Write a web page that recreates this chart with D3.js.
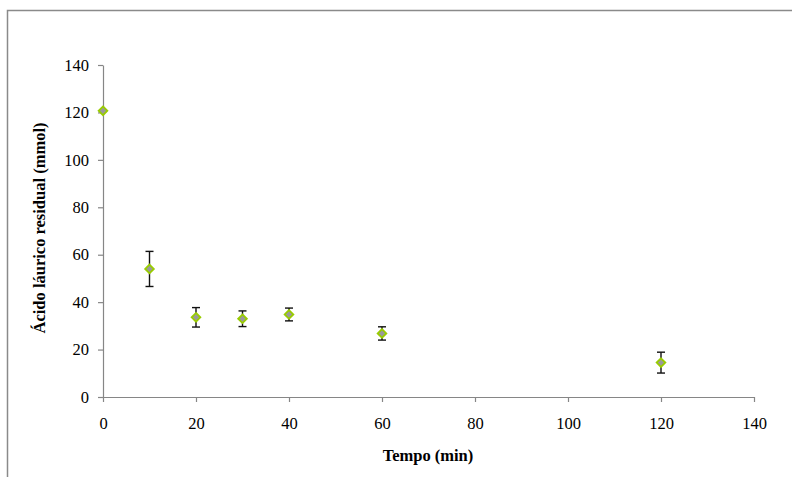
<!DOCTYPE html>
<html><head><meta charset="utf-8">
<script src="https://cdn.jsdelivr.net/npm/d3@7"></script>
<style>html,body{margin:0;padding:0;background:#fff;overflow:hidden}
svg text{font-family:"Liberation Serif","Times New Roman",Times,"DejaVu Serif",serif}</style>
</head><body>
<svg id="c" width="792" height="477"></svg>
<script>
const times = [0, 10, 20, 30, 40, 60, 120];
const acid = [120.7, 54.0, 33.6, 33.0, 34.8, 26.8, 14.5];
const errs = [0, 7.4, 4.1, 3.3, 2.7, 2.8, 4.4];
const xTicks = [0, 20, 40, 60, 80, 100, 120, 140];
const yTicks = [0, 20, 40, 60, 80, 100, 120, 140];
const xTitle = "Tempo (min)";
const yTitle = "Ácido láurico residual (mmol)";

const svg = d3.select("#c");
// outer frame
svg.append("rect").attr("x", 7.5).attr("y", 10.5).attr("width", 800).attr("height", 500)
  .attr("fill", "none").attr("stroke", "#8a8a8a").attr("stroke-width", 1.5);

const x = d3.scaleLinear().domain([0, 140]).range([103, 754]);
const y = d3.scaleLinear().domain([0, 140]).range([397, 65]);

const xAxis = svg.append("g").attr("transform", "translate(0,397)")
  .call(d3.axisBottom(x).tickValues(xTicks).tickSize(5).tickPadding(8).tickSizeOuter(0));
const yAxis = svg.append("g").attr("transform", "translate(103,0)")
  .call(d3.axisLeft(y).tickValues(yTicks).tickSize(5).tickPadding(9).tickSizeOuter(0));
[xAxis, yAxis].forEach(a => {
  a.attr("font-family", null).attr("font-size", null);
  a.selectAll("path,line").attr("stroke", "#868686").attr("stroke-width", 1.2);
  a.selectAll("text").style("font-size", "16.5px").attr("fill", "#000");
});
xAxis.selectAll("text").attr("y", 32).attr("dy", 0);

svg.append("text").attr("x", 428).attr("y", 461).attr("text-anchor", "middle")
  .style("font-size", "16.5px").attr("font-weight", "bold").text(xTitle);
svg.append("text").attr("transform", "translate(45,228) rotate(-90)").attr("text-anchor", "middle")
  .style("font-size", "16.5px").attr("font-weight", "bold").text(yTitle);

const pts = times.map((t, i) => ({t, v: acid[i], e: errs[i]}));
const eb = svg.append("g").attr("stroke", "#111").attr("stroke-width", 1.4);
pts.filter(d => d.e > 0).forEach(d => {
  const cx = x(d.t);
  eb.append("line").attr("x1", cx).attr("x2", cx).attr("y1", y(d.v + d.e)).attr("y2", y(d.v - d.e));
  eb.append("line").attr("x1", cx - 4).attr("x2", cx + 4).attr("y1", y(d.v + d.e)).attr("y2", y(d.v + d.e));
  eb.append("line").attr("x1", cx - 4).attr("x2", cx + 4).attr("y1", y(d.v - d.e)).attr("y2", y(d.v - d.e));
});
svg.append("g").selectAll("path").data(pts).join("path")
  .attr("d", d3.symbol(d3.symbolDiamond2, 48))
  .attr("transform", d => `translate(${x(d.t)},${y(d.v)})`)
  .attr("fill", "#9a9a9a").attr("stroke", "#99cc00").attr("stroke-width", 1.8);
</script>
</body></html>
